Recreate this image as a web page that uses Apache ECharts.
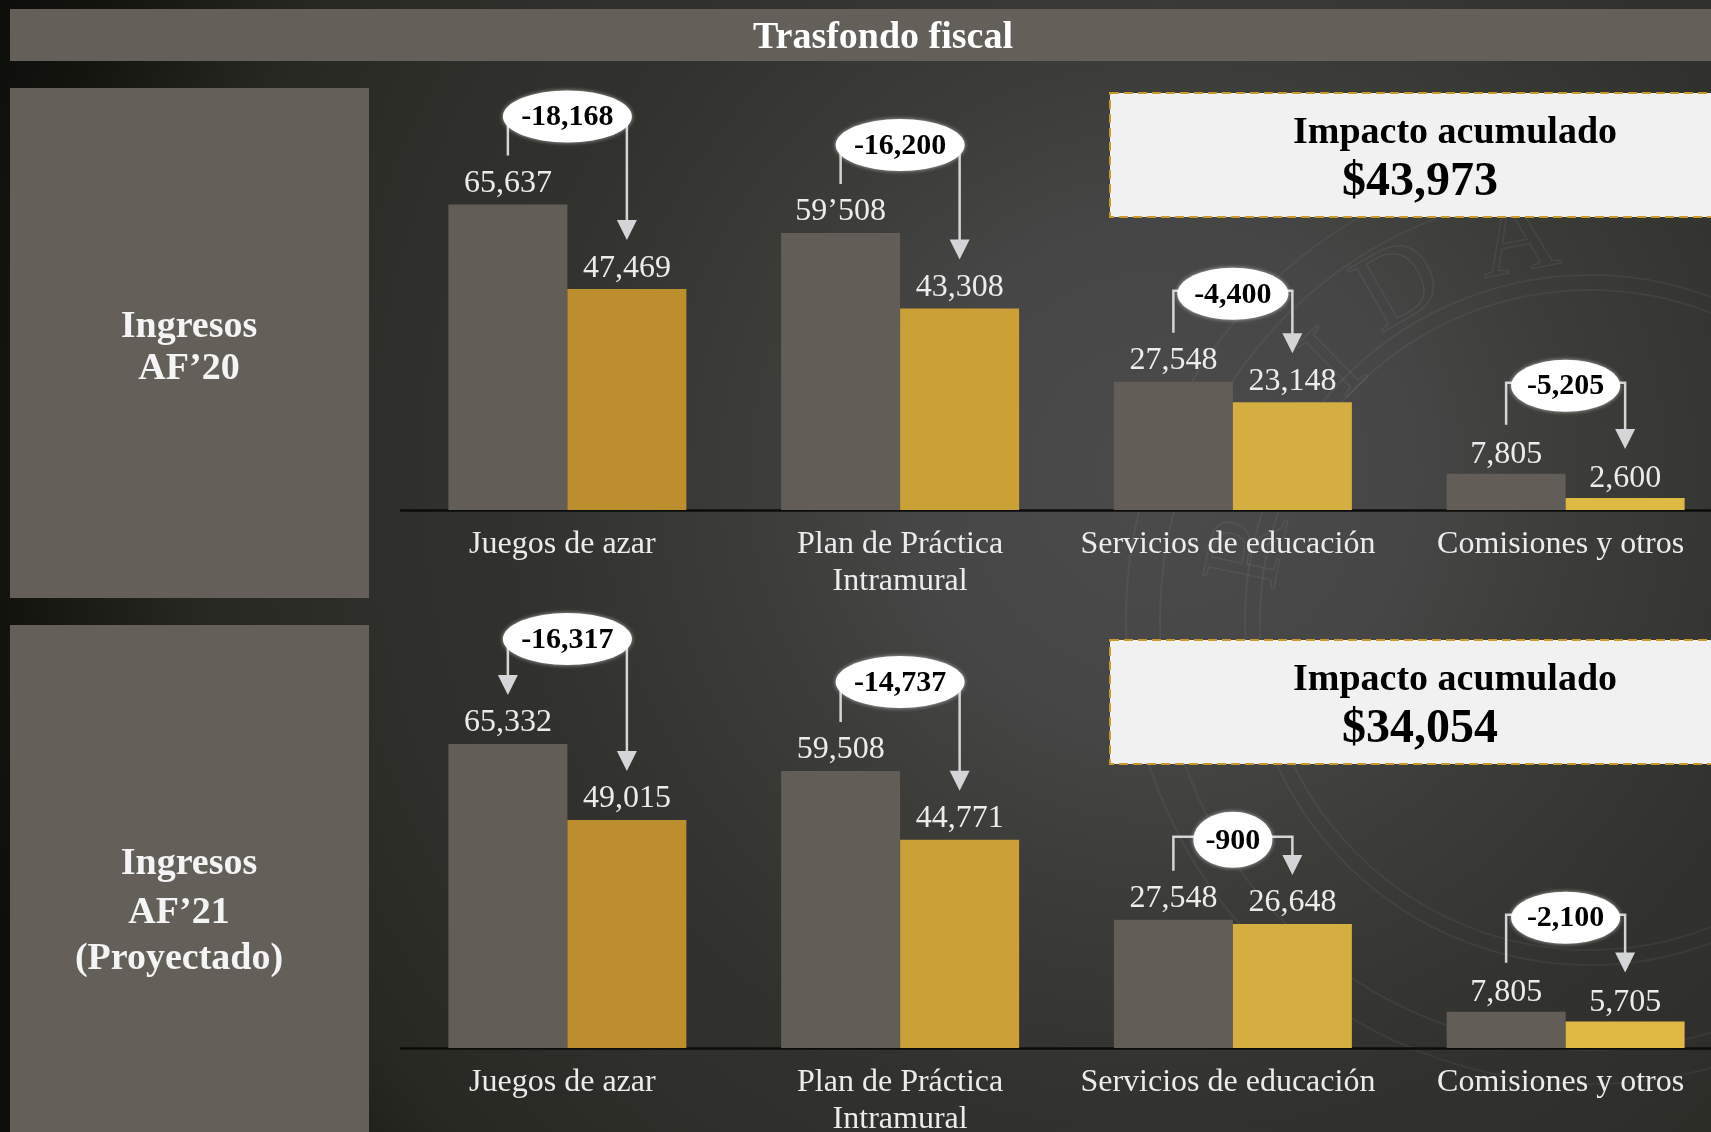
<!DOCTYPE html>
<html>
<head>
<meta charset="utf-8">
<title>Trasfondo fiscal</title>
<script src="https://cdn.jsdelivr.net/npm/echarts@6/dist/echarts.min.js"></script>
<style>
  html, body { margin: 0; padding: 0; background: #2a2a26; overflow: hidden; }
  #chart { width: 1711px; height: 1132px; }
</style>
</head>
<body>
<div id="chart"></div>
<script>
const categories = ['Juegos de azar', 'Plan de Práctica\nIntramural', 'Servicios de educación', 'Comisiones y otros'];

const base20 = [65637, 59508, 27548, 7805];
const revised20 = [47469, 43308, 23148, 2600];
const baseLabels20 = ['65,637', '59’508', '27,548', '7,805'];
const revisedLabels20 = ['47,469', '43,308', '23,148', '2,600'];
const diffLabels20 = ['-18,168', '-16,200', '-4,400', '-5,205'];

const base21 = [65332, 59508, 27548, 7805];
const revised21 = [49015, 44771, 26648, 5705];
const baseLabels21 = ['65,332', '59,508', '27,548', '7,805'];
const revisedLabels21 = ['49,015', '44,771', '26,648', '5,705'];
const diffLabels21 = ['-16,317', '-14,737', '-900', '-2,100'];

const impactTotals = ['$43,973', '$34,054'];

const GREY = '#625d56';
const GOLDS = ['#bd8e2d', '#cba036', '#d5ae41', '#e0b844'];
const SERIF = '"Liberation Serif", "Times New Roman", serif';
const BAR_W = 119;
const LEG = 49;

// layout of the callouts, px above the grey bar
const lift20 = [88, 88, 88, 88];
const lift21 = [105, 89, 80, 94];
const bubbleW20 = [129, 129, 111, 109];
const bubbleW21 = [129, 129, 79, 109];

function barSeries(idx, values, labels, colorFor) {
  return {
    type: 'bar',
    xAxisIndex: idx,
    yAxisIndex: idx,
    barWidth: BAR_W,
    barGap: 0,
    // the last pair's labels sit closer to their short bars
    data: values.map((v, i) => ({ value: v, itemStyle: { color: colorFor(i) }, label: { distance: i === 3 ? 3 : 5 } })),
    label: {
      show: true,
      position: 'top',
      color: '#ececec',
      fontFamily: SERIF,
      fontSize: 32,
      formatter: (p) => labels[p.dataIndex],
    },
    silent: true,
  };
}

function calloutSeries(idx, base, revised, diffs, lift, widths, leftArrow) {
  return {
    type: 'custom',
    xAxisIndex: idx,
    yAxisIndex: idx,
    clip: false,
    silent: true,
    z: 5,
    data: categories.map((c, i) => [i, base[i], revised[i]]),
    renderItem: (params, api) => {
      const i = params.dataIndex;
      const cx = api.coord([i, 0])[0];
      const lx = cx - BAR_W / 2;
      const rx = cx + BAR_W / 2;
      const baseTop = api.coord([i, api.value(1)])[1];
      const revTop = api.coord([i, api.value(2)])[1];
      const by = baseTop - lift[i];
      const lineStyle = { stroke: '#d4d5d6', lineWidth: 2.5, fill: 'none' };
      const head = (x, tip) => ({
        type: 'polygon',
        shape: { points: [[x - 10, tip - 20], [x + 10, tip - 20], [x, tip]] },
        style: { fill: '#d4d5d6' },
      });
      const rTip = revTop - LEG;
      const lTip = baseTop - LEG;
      const children = [
        { type: 'polyline', shape: { points: [[lx, leftArrow && i === 0 ? lTip - 16 : lTip], [lx, by - 3], [cx, by - 3]] }, style: lineStyle },
        { type: 'polyline', shape: { points: [[cx, by - 3], [rx, by - 3], [rx, rTip - 16]] }, style: lineStyle },
        head(rx, rTip),
      ];
      if (leftArrow && i === 0) children.push(head(lx, lTip));
      children.push({
        type: 'ellipse',
        shape: { cx: cx, cy: by, rx: widths[i] / 2, ry: widths[i] < 90 ? 28 : 26 },
        style: { fill: '#ffffff', shadowBlur: 4, shadowColor: 'rgba(255,255,255,0.6)' },
      });
      children.push({
        type: 'text',
        style: {
          x: cx,
          y: by + 1,
          text: diffs[i],
          fill: '#000',
          align: 'center',
          verticalAlign: 'middle',
          font: 'bold 30px ' + SERIF,
        },
      });
      return { type: 'group', children: children };
    },
  };
}

function panel(x, y, w, h) {
  return { type: 'rect', z: 1, shape: { x: x, y: y, width: w, height: h }, style: { fill: '#645f58' } };
}

function label(text, x, y, size, color) {
  return {
    type: 'text',
    z: 3,
    style: {
      x: x,
      y: y,
      text: text,
      fill: color,
      align: 'center',
      verticalAlign: 'middle',
      font: 'bold ' + size + 'px ' + SERIF,
    },
  };
}

function impactBox(y, h, total) {
  return [
    {
      type: 'rect',
      z: 1,
      shape: { x: 1110, y: y, width: 640, height: h },
      style: { fill: '#f1f1f1', stroke: '#c99a2e', lineWidth: 2, lineDash: [9, 5] },
    },
    label('Impacto acumulado', 1455, y + 40, 38, '#000'),
    label(total, 1420, y + 90, 48, '#000'),
  ];
}

// faint seal behind the bars
function seal() {
  const ring = (r) => ({
    type: 'circle',
    z: 0,
    shape: { cx: 1590, cy: 620, r: r },
    style: { fill: 'none', stroke: 'rgba(255,255,255,0.05)', lineWidth: 2 },
  });
  const letter = (t, x, y, rot) => ({
    type: 'text',
    z: 0,
    x: x,
    y: y,
    rotation: rot,
    style: { text: t, x: 0, y: 0, align: 'center', verticalAlign: 'middle', fill: 'none', stroke: 'rgba(255,255,255,0.06)', lineWidth: 1.5, font: '110px ' + SERIF },
  });
  return [
    ring(464), ring(430), ring(345), ring(330),
    letter('D', 1400, 289, 0.52),
    letter('I', 1337, 366, 0.78),
    letter('A', 1518, 242, 0.19),
    letter('R', 1252, 551, 1.37),
  ];
}

const chart = echarts.init(document.getElementById('chart'), null, { renderer: 'canvas' });

function xAxis(gridIndex) {
  const text = { color: '#ececec', fontFamily: SERIF, fontSize: 32, lineHeight: 37 };
  return {
    type: 'category',
    gridIndex: gridIndex,
    data: categories,
    axisLine: { lineStyle: { color: '#0c0c0a', width: 2.5 } },
    axisTick: { show: false },
    axisLabel: {
      interval: 0,
      margin: 16,
      hideOverlap: false,
      ...text,
      // single-line labels sit a little left of the bar pair
      formatter: (v) => (v.indexOf('\n') < 0 ? '{off|' + v + '}' : v),
      rich: { off: { ...text, padding: [0, 10, 0, 0] } },
    },
  };
}

function yAxis(gridIndex) {
  return { type: 'value', gridIndex: gridIndex, min: 0, max: 75000, show: false };
}

chart.setOption({
  animation: false,
  backgroundColor: {
    type: 'radial',
    x: 0.68,
    y: 0.42,
    r: 1.1,
    colorStops: [
      { offset: 0, color: '#4b4b4b' },
      { offset: 0.2, color: '#464646' },
      { offset: 0.33, color: '#3c3c39' },
      { offset: 0.52, color: '#31312d' },
      { offset: 0.62, color: '#2f2f2b' },
      { offset: 0.78, color: '#282823' },
      { offset: 0.93, color: '#14140f' },
      { offset: 1, color: '#0e0e0b' },
    ],
  },
  grid: [
    { left: 401, top: 161, width: 1331, height: 349, outerBoundsMode: 'none' },
    { left: 401, top: 699, width: 1331, height: 349, outerBoundsMode: 'none' },
  ],
  xAxis: [xAxis(0), xAxis(1)],
  yAxis: [yAxis(0), yAxis(1)],
  series: [
    barSeries(0, base20, baseLabels20, () => GREY),
    barSeries(0, revised20, revisedLabels20, (i) => GOLDS[i]),
    calloutSeries(0, base20, revised20, diffLabels20, lift20, bubbleW20, false),
    barSeries(1, base21, baseLabels21, () => GREY),
    barSeries(1, revised21, revisedLabels21, (i) => GOLDS[i]),
    calloutSeries(1, base21, revised21, diffLabels21, lift21, bubbleW21, true),
  ],
  graphic: { elements: [
    ...seal(),
    panel(10, 9, 1701, 52),
    panel(10, 88, 359, 510),
    panel(10, 625, 359, 507),
    label('Trasfondo fiscal', 883, 38, 38, '#fff'),
    label('Ingresos', 189, 327, 38, '#f4f4f4'),
    label('AF’20', 189, 369, 38, '#f4f4f4'),
    label('Ingresos', 189, 864, 38, '#f4f4f4'),
    label('AF’21', 179, 913, 38, '#f4f4f4'),
    label('(Proyectado)', 179, 959, 38, '#f4f4f4'),
    ...impactBox(93, 124, impactTotals[0]),
    ...impactBox(640, 124, impactTotals[1]),
  ] },
});
</script>
</body>
</html>
